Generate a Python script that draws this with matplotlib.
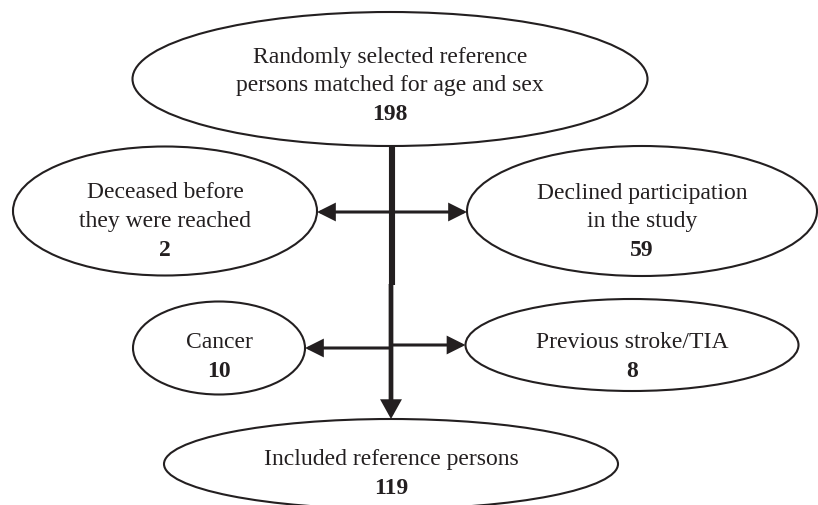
import matplotlib
matplotlib.use("Agg")
import matplotlib.pyplot as plt
from matplotlib.patches import Ellipse

# flowchart content
titles = [
    ["Randomly selected reference", "persons matched for age and sex"],
    ["Deceased before", "they were reached"],
    ["Declined participation", "in the study"],
    ["Cancer"],
    ["Previous stroke/TIA"],
    ["Included reference persons"],
]
counts = [198, 2, 59, 10, 8, 119]

# layout in pixel coords (x, y centre, width, height) -- y grows downwards
boxes = [
    (390, 80, 515, 134),
    (165, 212, 304, 129),
    (642, 212, 350, 130),
    (219, 349, 172, 93),
    (632, 346, 333, 92),
    (391, 465, 454, 90),
]
# y of the first text line for every box
text_top = [57, 193, 193, 343, 343, 460]
line_gap = 28.5

INK = "#231f20"
plt.rcParams['font.family'] = ['Liberation Serif', 'DejaVu Serif']

fig = plt.figure(figsize=(8.18, 5.06), dpi=100)
ax = fig.add_axes([0, 0, 1, 1])
ax.set_xlim(0, 818)
ax.set_ylim(506, 0)
ax.axis('off')

for (cx, cy, w, h), lines, n, ty in zip(boxes, titles, counts, text_top):
    ax.add_patch(Ellipse((cx, cy), w, h, fill=False, ec=INK, lw=1.5))
    for i, s in enumerate(lines):
        ax.text(cx, ty + i*line_gap, s, ha='center', va='center',
                fontsize=17, color=INK)
    ax.text(cx, ty + len(lines)*line_gap, str(n), ha='center', va='center',
            fontsize=17, fontweight='bold', color=INK)

def arrow(x0, y0, x1, y1, lw=2.2, hl=11, hw=5.5):
    ax.annotate("", xy=(x1, y1), xytext=(x0, y0),
                arrowprops=dict(arrowstyle="-|>,head_length=%g,head_width=%g" % (hl, hw),
                                mutation_scale=1, lw=lw, color=INK,
                                joinstyle='miter', capstyle='butt',
                                shrinkA=0, shrinkB=0))

# main trunk
xm = 392
ax.plot([xm, xm], [boxes[0][1] + boxes[0][3]/2, 286], color=INK, lw=4.4,
        solid_capstyle='butt')
arrow(391, 285, 391, 420, lw=3.4, hl=9, hw=5)

# side exits: first level
arrow(xm, 213, boxes[1][0] + boxes[1][2]/2, 213, hl=10, hw=5)
arrow(xm, 213, boxes[2][0] - boxes[2][2]/2, 213, hl=10, hw=5)
# side exits: second level
arrow(391, 349, boxes[3][0] + boxes[3][2]/2, 349, hl=10, hw=5)
arrow(391, 346, boxes[4][0] - boxes[4][2]/2, 346, hl=10, hw=5)

fig.savefig("out.png", dpi=100)
